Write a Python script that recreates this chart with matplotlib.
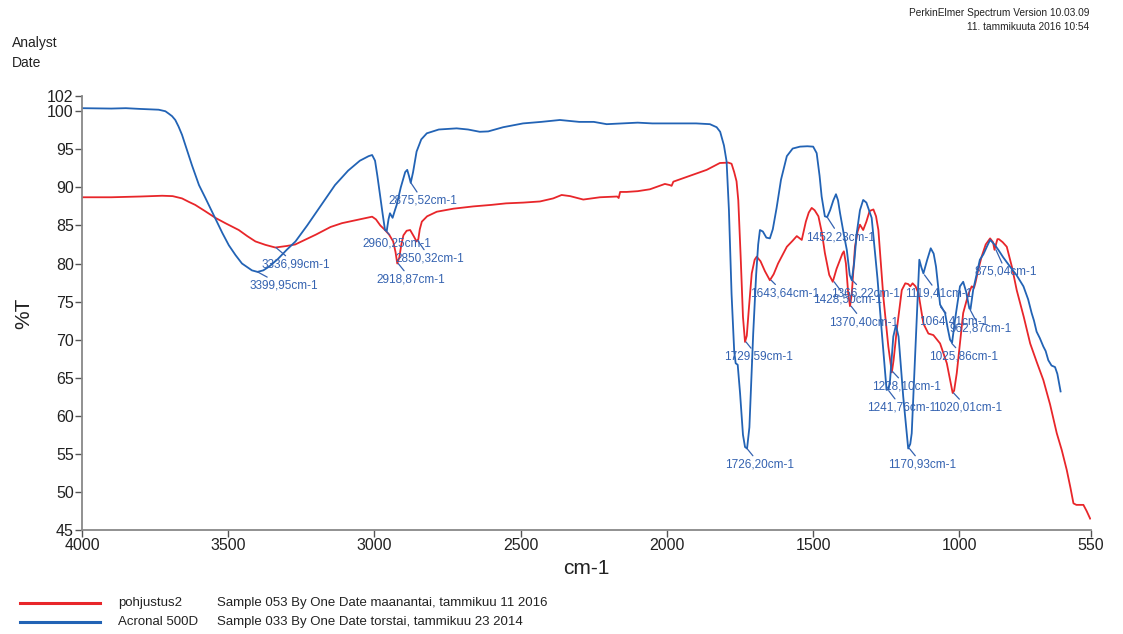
import matplotlib
matplotlib.use("Agg")
import matplotlib.pyplot as plt
from matplotlib.lines import Line2D
from matplotlib import font_manager

# ---------------- data ----------------
blue_wn = [4000, 3900, 3850, 3800, 3738, 3715, 3704, 3692, 3681, 3670, 3658, 3640, 3624, 3600, 3578,
           3544, 3520, 3498, 3475, 3453, 3430, 3419, 3400, 3380, 3360, 3330, 3300, 3270, 3230, 3180,
           3135, 3090, 3050, 3020, 3008, 2998, 2990, 2981, 2972, 2964, 2958, 2952, 2947, 2938, 2930,
           2924, 2910, 2895, 2888, 2882, 2876, 2868, 2856, 2840, 2821, 2780, 2719, 2680, 2640, 2611,
           2560, 2492, 2430, 2366, 2300, 2250, 2206, 2150, 2100, 2050, 1979, 1900, 1853, 1830, 1818,
           1805, 1796, 1788, 1779, 1770, 1765, 1758, 1750, 1740, 1733, 1726, 1718, 1710, 1705, 1695,
           1688, 1682, 1672, 1660, 1648, 1638, 1625, 1610, 1590, 1570, 1545, 1520, 1500, 1488, 1478,
           1471, 1460, 1452, 1442, 1431, 1422, 1415, 1408, 1395, 1385, 1375, 1368, 1360, 1351, 1340,
           1329, 1318, 1300, 1280, 1266, 1249, 1242, 1237, 1226, 1217, 1208, 1192, 1175, 1168, 1163,
           1146, 1137, 1130, 1123, 1110, 1098, 1088, 1080, 1066, 1049, 1040, 1032, 1025, 1015, 998,
           987, 977, 966, 962, 953, 930, 918, 905, 895, 880, 867, 850, 827, 805, 781,
           765, 753, 745, 736, 725, 713, 705, 696, 685, 673, 665, 654]
blue_t = [100.4, 100.35, 100.4, 100.3, 100.2, 100.0, 99.7, 99.35, 98.85, 98.0, 96.9, 94.8, 92.9, 90.3, 88.6,
          85.9, 84.0, 82.4, 81.1, 80.0, 79.4, 79.1, 78.9, 79.1, 79.6, 80.6, 81.8, 82.9, 85.0, 87.8,
          90.3, 92.2, 93.5, 94.1, 94.25, 93.5, 91.5, 89.0, 86.5, 84.4, 84.3, 85.8, 86.6, 86.0, 87.0,
          87.7, 90.0, 92.0, 92.3, 91.5, 90.6, 92.0, 94.7, 96.3, 97.1, 97.6, 97.75, 97.6, 97.3, 97.35,
          97.9, 98.4, 98.6, 98.85, 98.6, 98.6, 98.3, 98.4, 98.5, 98.4, 98.4, 98.4, 98.3, 97.9, 97.3,
          95.5, 93.4, 87.0, 76.0, 68.5, 66.9, 66.7, 63.0, 57.5, 55.9, 55.7, 58.5, 66.0, 70.8, 78.5,
          82.5, 84.4, 84.2, 83.4, 83.3, 84.5, 87.3, 91.0, 94.1, 95.1, 95.35, 95.4, 95.35, 94.5, 91.5,
          88.8, 86.2, 86.1, 87.0, 88.3, 89.1, 88.3, 86.6, 83.8, 81.8, 78.5, 77.8, 80.0, 84.0, 87.0,
          88.35, 88.0, 86.0, 78.0, 71.3, 63.4, 63.5, 64.7, 70.4, 71.9, 70.4, 62.5, 55.7, 56.3, 57.7,
          72.6, 80.5, 79.5, 78.7, 80.5, 82.0, 81.3, 79.6, 74.6, 73.5, 71.5, 70.0, 69.6, 72.6, 77.0,
          77.6, 76.3, 74.1, 74.0, 76.5, 80.5, 81.2, 82.3, 83.1, 82.5, 81.8, 80.8, 79.6, 78.5, 77.0,
          75.3, 73.5, 72.5, 71.05, 70.2, 69.1, 68.5, 67.3, 66.6, 66.4, 65.5, 63.2]

red_wn = [4000, 3900, 3800, 3726, 3690, 3658, 3635, 3613, 3580, 3544, 3510, 3464, 3435, 3407, 3373,
          3339, 3300, 3271, 3200, 3150, 3111, 3050, 3008, 2995, 2980, 2964, 2950, 2936, 2928, 2922,
          2915, 2908, 2901, 2890, 2878, 2866, 2856, 2850, 2845, 2838, 2820, 2787, 2730, 2662, 2600,
          2550, 2491, 2434, 2389, 2360, 2331, 2286, 2229, 2170, 2165, 2160, 2138, 2100, 2058, 2007,
          1990, 1984, 1978, 1930, 1864, 1819, 1790, 1779, 1770, 1762, 1756, 1748, 1740, 1733, 1727,
          1720, 1710, 1700, 1693, 1680, 1665, 1648, 1635, 1620, 1590, 1570, 1556, 1539, 1525, 1515,
          1505, 1495, 1482, 1470, 1460, 1445, 1433, 1420, 1408, 1400, 1395, 1388, 1380, 1374, 1368,
          1357, 1348, 1340, 1329, 1318, 1307, 1294, 1285, 1277, 1260, 1243, 1231, 1225, 1214, 1197,
          1185, 1175, 1168, 1160, 1150, 1140, 1123, 1106, 1089, 1066, 1043, 1023, 1018, 1009, 998,
          987, 970, 958, 950, 945, 936, 924, 910, 895, 885, 880, 875, 870, 865, 852,
          838, 820, 804, 780, 758, 735, 713, 690, 667, 650, 633, 620, 610, 600, 590,
          576, 565, 553]
red_t = [88.7, 88.7, 88.8, 88.9, 88.85, 88.55, 88.1, 87.7, 86.9, 86.0, 85.3, 84.4, 83.6, 82.9, 82.45,
         82.1, 82.3, 82.5, 83.8, 84.8, 85.3, 85.8, 86.15, 85.8, 85.0, 84.4, 83.8, 82.9, 81.5, 80.0,
         80.8, 82.5, 83.7, 84.3, 84.4, 83.6, 82.9, 83.2, 84.5, 85.5, 86.2, 86.8, 87.2, 87.5, 87.7,
         87.9, 88.0, 88.15, 88.55, 89.0, 88.85, 88.4, 88.7, 88.8, 88.6, 89.4, 89.4, 89.5, 89.75, 90.45,
         90.3, 90.2, 90.75, 91.4, 92.3, 93.2, 93.25, 93.1, 92.0, 90.8, 88.3, 81.0, 73.0, 69.7, 70.5,
         74.0, 78.7, 80.5, 80.9, 80.3, 79.0, 77.8, 78.6, 80.0, 82.2, 83.0, 83.6, 83.1, 85.5, 86.7,
         87.3, 87.0, 86.2, 84.0, 81.4, 78.5, 77.6, 79.3, 80.5, 81.3, 81.6, 80.0, 76.0, 74.4, 76.0,
         82.2, 84.2, 85.1, 84.4, 85.5, 86.9, 87.1, 86.2, 84.4, 75.6, 69.1, 65.7, 67.3, 71.3, 76.5,
         77.4, 77.3, 77.0, 77.4, 77.0, 76.1, 72.1, 70.8, 70.6, 69.5, 66.9, 63.0, 63.3, 65.6, 69.5,
         73.5, 75.9, 77.0, 76.8, 77.5, 79.1, 80.9, 82.5, 83.3, 82.8, 81.8, 82.5, 83.2, 83.2, 82.8,
         82.2, 79.5, 76.5, 73.0, 69.5, 67.0, 64.7, 61.5, 57.7, 55.5, 52.9, 50.5, 48.5, 48.3, 48.3,
         48.3, 47.5, 46.5]

peak_labels = ["3399,95cm-1", "3336,99cm-1", "2960,25cm-1", "2875,52cm-1", "2850,32cm-1",
               "2918,87cm-1", "1729,59cm-1", "1726,20cm-1", "1643,64cm-1", "1452,23cm-1",
               "1428,50cm-1", "1366,22cm-1", "1370,40cm-1", "1228,10cm-1", "1241,76cm-1",
               "1020,01cm-1", "1170,93cm-1", "1119,41cm-1", "1064,41cm-1", "962,87cm-1",
               "1025,86cm-1", "875,04cm-1"]
peak_wn = [3399.95, 3336.99, 2960.25, 2875.52, 2850.32, 2918.87, 1729.59, 1726.20, 1643.64,
           1452.23, 1428.50, 1366.22, 1370.40, 1228.10, 1241.76, 1020.01, 1170.93, 1119.41,
           1064.41, 962.87, 1025.86, 875.04]
peak_t = [78.9, 82.1, 84.3, 90.6, 82.9, 80.0, 69.7, 55.7, 77.8, 86.1, 77.6, 77.8, 74.4, 65.8,
          63.3, 63.0, 55.7, 78.5, 74.3, 73.9, 69.5, 81.8]
# label offsets (pixels) from peak to text centre
label_dx = [26, 20, 11, 12, 12, 13, 12, 13, 13, 13, 13.5, 13, 12.5, 14, 13, 14, 13, 14, 13, 10, 12, 10]
label_dy = [-14, -17, -13, -18, -17, -16, -15, -16, -13, -20, -18, -13, -16, -15, -17, -15, -16,
            -19, -15, -19, -13, -22]

x_ticks = [4000, 3500, 3000, 2500, 2000, 1500, 1000, 550]
y_ticks = [45, 50, 55, 60, 65, 70, 75, 80, 85, 90, 95, 100, 102]

series_names = ["pohjustus2", "Acronal 500D"]
series_desc = ["Sample 053 By One Date maanantai, tammikuu 11 2016",
               "Sample 033 By One Date torstai, tammikuu 23 2014"]

# ---------------- style ----------------
RED = "#e8262a"
BLUE = "#2263b5"
LBL = "#3462b0"
names = {f.name for f in font_manager.fontManager.ttflist}
NARROW = "Liberation Sans Narrow" if "Liberation Sans Narrow" in names else "Liberation Sans"
plt.rcParams["font.family"] = ["Liberation Sans", "DejaVu Sans"]

fig = plt.figure(figsize=(11.23, 6.34), dpi=100)
ax = fig.add_axes([82 / 1123, 104 / 634, 1009 / 1123, 434 / 634])

ax.plot(red_wn, red_t, color=RED, lw=1.3)
ax.plot(blue_wn, blue_t, color=BLUE, lw=1.3)

for txt, wn, t, dx, dy in zip(peak_labels, peak_wn, peak_t, label_dx, label_dy):
    ax.annotate(txt, xy=(wn, t), xytext=(dx, dy), textcoords="offset pixels",
                ha="center", va="center", fontsize=8.5, color=LBL,
                arrowprops=dict(arrowstyle="-", color=LBL, lw=0.9, shrinkA=0, shrinkB=0))

ax.set_xlim(4000, 550)
ax.set_ylim(45, 102)
ax.set_xticks(x_ticks)
ax.set_yticks(y_ticks)
ax.set_xticklabels([str(v) for v in x_ticks])
for s in ("top", "right"):
    ax.spines[s].set_visible(False)
for s in ("left", "bottom"):
    ax.spines[s].set_color("#888888")
    ax.spines[s].set_linewidth(1.3)
ax.tick_params(axis="both", direction="out", length=5, width=1.0, color="#555555",
               labelsize=11.5, labelcolor="#222222", pad=1)
ax.set_xlabel("cm-1", fontsize=15, color="#222222", labelpad=4)
ax.set_ylabel("%T", fontsize=15, color="#222222", labelpad=10)

# header texts
fig.text(1089 / 1123, 1 - 13 / 634, "PerkinElmer Spectrum Version 10.03.09", ha="right", va="center",
         fontsize=7.3, family=NARROW, color="#222222")
fig.text(1089 / 1123, 1 - 27 / 634, "11. tammikuuta 2016 10:54", ha="right", va="center",
         fontsize=7.3, family=NARROW, color="#222222")
fig.text(12 / 1123, 1 - 43 / 634, "Analyst", ha="left", va="center", fontsize=10, family=NARROW,
         color="#222222")
fig.text(12 / 1123, 1 - 63 / 634, "Date", ha="left", va="center", fontsize=10, family=NARROW,
         color="#222222")

# legend
for i, (col, nm, desc) in enumerate(zip([RED, BLUE], series_names, series_desc)):
    yy = 1 - (603 + 19 * i) / 634
    fig.add_artist(Line2D([20 / 1123, 100 / 1123], [yy, yy], color=col, lw=2.2,
                          transform=fig.transFigure))
    fig.text(118 / 1123, yy, nm, ha="left", va="center", fontsize=9.5, family=NARROW, color="#222222")
    fig.text(217 / 1123, yy, desc, ha="left", va="center", fontsize=9.5, family=NARROW, color="#222222")

fig.savefig("out.png", dpi=100)
